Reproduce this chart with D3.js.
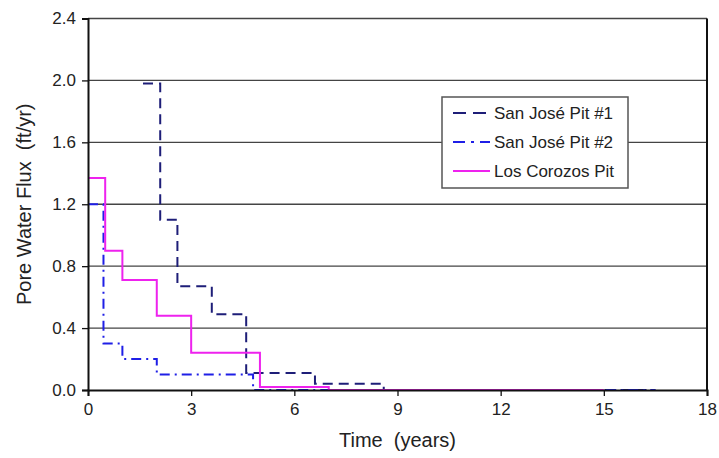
<!DOCTYPE html>
<html>
<head>
<meta charset="utf-8">
<script src="https://cdn.jsdelivr.net/npm/d3@7"></script>
<style>
  body { margin: 0; background: #fff; }
  svg { display: block; font-family: "Liberation Sans", Arial, sans-serif; }
  text { white-space: pre; }
</style>
</head>
<body>
<svg id="chart" width="719" height="458"></svg>
<script>
(function(){
    'use strict';

    // Step series: [time (years), flux (ft/yr)] - value holds until the next time
    const pit1 = [[1.6, 1.98], [2.1, 1.1], [2.6, 0.67], [3.6, 0.49], [4.6, 0.11], [6.6, 0.04], [8.6, 0.0], [16.5, 0.0]];
    const pit2 = [[0, 1.2], [0.45, 0.3], [1.0, 0.2], [2.0, 0.1], [4.8, 0.0], [16.5, 0.0]];
    const corozos = [[0, 1.37], [0.5, 0.9], [1.0, 0.71], [2.0, 0.48], [3.0, 0.24], [5.0, 0.02], [7.0, 0.0], [15.0, 0.0]];

    const seriesNames = ['San José Pit #1', 'San José Pit #2', 'Los Corozos Pit'];
    const xTicks = [0, 3, 6, 9, 12, 15, 18];
    const yTicks = [0, 0.4, 0.8, 1.2, 1.6, 2.0, 2.4];

    const width = 719;
    const height = 458;
    const margin = {top: 18.5, right: 12, bottom: 68, left: 88};

    const svg = d3.select('#chart');

    const x = d3.scaleLinear()
        .domain([0, 18])
        .range([margin.left, width - margin.right]);

    const y = d3.scaleLinear()
        .domain([0, 2.4])
        .range([height - margin.bottom, margin.top]);

    // Horizontal gridlines
    svg.append('g')
        .selectAll('line')
        .data(yTicks.slice(1))
        .enter()
        .append('line')
            .attr('x1', x(0))
            .attr('x2', x(18))
            .attr('y1', d => y(d))
            .attr('y2', d => y(d))
            .attr('stroke', '#444')
            .attr('stroke-width', 1.3);

    // Right border
    svg.append('line')
        .attr('x1', x(18)).attr('x2', x(18))
        .attr('y1', y(2.4)).attr('y2', y(0))
        .attr('stroke', '#111')
        .attr('stroke-width', 2);

    const styles = [
        {color: '#1e1e78', dash: '10,6'},
        {color: '#1f1fe6', dash: '10,5,2,5'},
        {color: '#ee22ee', dash: null}
    ];

    const line = d3.line()
        .x(d => x(d[0]))
        .y(d => y(d[1]))
        .curve(d3.curveStepAfter);

    [pit1, pit2, corozos].forEach((data, i) => {
        svg.append('path')
            .datum(data)
            .attr('fill', 'none')
            .attr('stroke', styles[i].color)
            .attr('stroke-width', 2)
            .attr('stroke-dasharray', styles[i].dash)
            .attr('d', line);
    });

    // Axes
    function xAxis(g){
        g.attr('transform', `translate(0, ${y(0)})`)
        .call(d3.axisBottom(x).tickValues(xTicks).tickSize(6).tickPadding(7).tickFormat(d3.format('d')));
    }

    function yAxis(g){
        g.attr('transform', `translate(${x(0)}, 0)`)
        .call(d3.axisLeft(y).tickValues(yTicks).tickSize(6).tickPadding(6).tickFormat(d3.format('.1f')));
    }

    [xAxis, yAxis].forEach(fn => {
        const g = svg.append('g').call(fn);
        g.select('.domain').attr('stroke', '#111').attr('stroke-width', 2);
        g.selectAll('.tick line').attr('stroke', '#111').attr('stroke-width', 1.3);
        g.selectAll('.tick text')
            .attr('fill', '#222')
            .style('font-size', '17px')
            .style('font-family', '"Liberation Sans", Arial, sans-serif');
    });

    // Axis titles
    svg.append('text')
        .attr('x', (x(0) + x(18)) / 2)
        .attr('y', 447)
        .attr('text-anchor', 'middle')
        .attr('fill', '#222')
        .style('font-size', '20px')
        .text('Time  (years)');

    svg.append('text')
        .attr('transform', `translate(31, ${(y(0) + y(2.4)) / 2}) rotate(-90)`)
        .attr('text-anchor', 'middle')
        .attr('fill', '#222')
        .style('font-size', '20px')
        .text('Pore Water Flux  (ft/yr)');

    // Legend
    const legend = svg.append('g').attr('transform', 'translate(442, 97)');
    legend.append('rect')
        .attr('width', 186)
        .attr('height', 91)
        .attr('fill', '#fff')
        .attr('stroke', '#555')
        .attr('stroke-width', 1.5);

    seriesNames.forEach((name, i) => {
        const ly = 16 + i * 29;
        legend.append('line')
            .attr('x1', 11).attr('x2', 48)
            .attr('y1', ly).attr('y2', ly)
            .attr('stroke', styles[i].color)
            .attr('stroke-width', 2)
            .attr('stroke-dasharray', i === 0 ? '13,7' : (i === 1 ? '12,6,3,6' : null));
        legend.append('text')
            .attr('x', 52)
            .attr('y', ly + 6)
            .attr('fill', '#222')
            .style('font-size', '17px')
            .text(name);
    });
})();
</script>
</body>
</html>
